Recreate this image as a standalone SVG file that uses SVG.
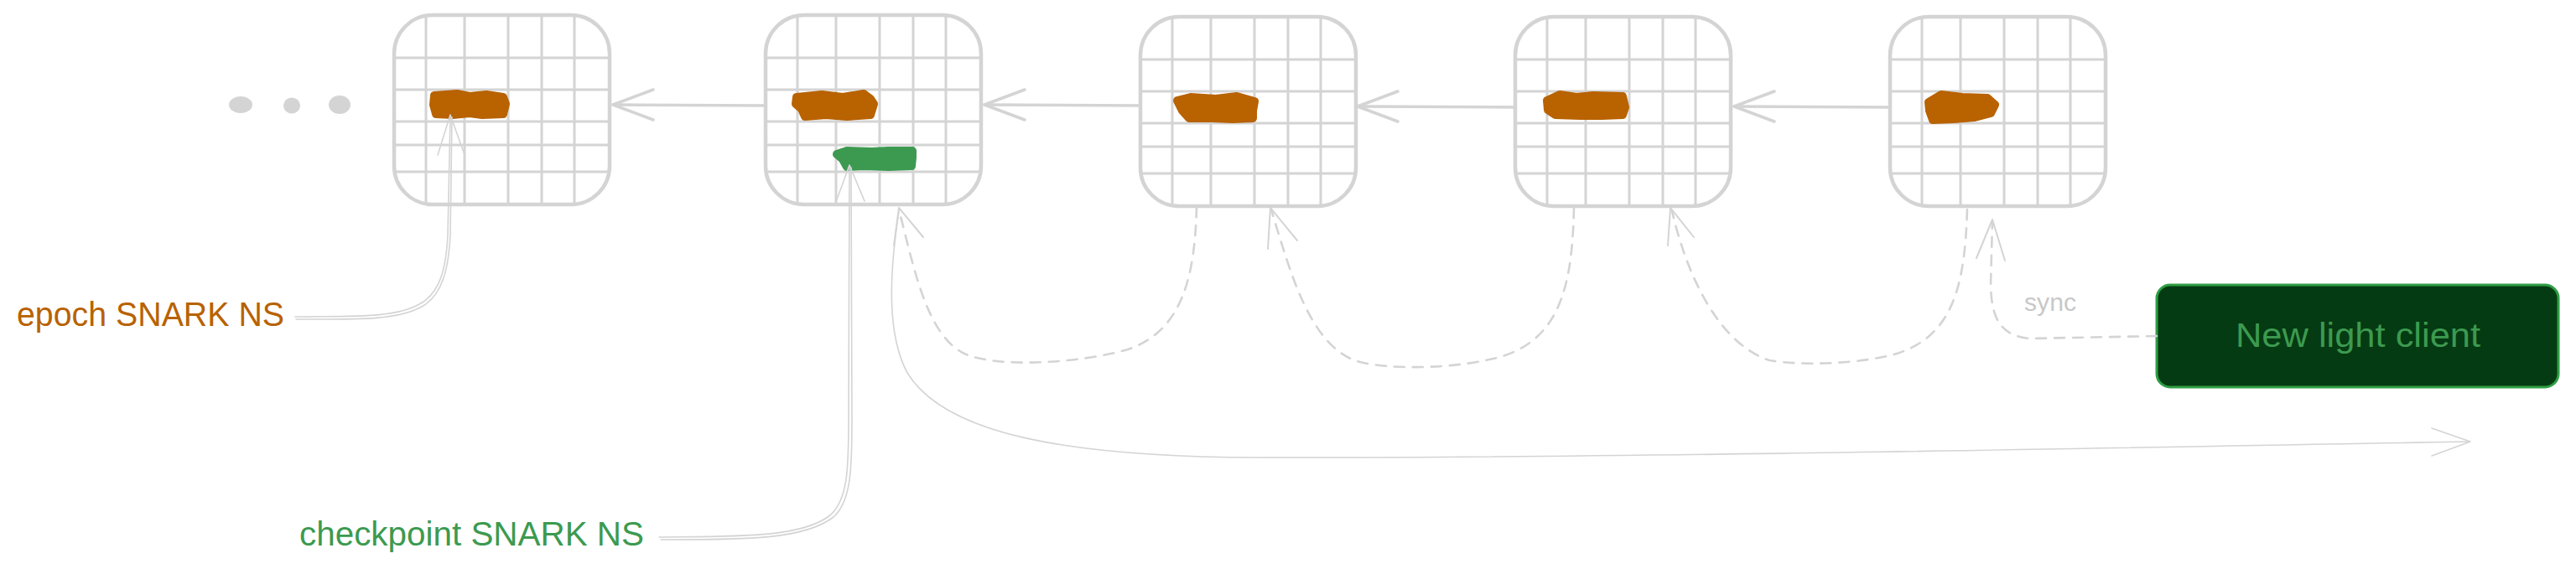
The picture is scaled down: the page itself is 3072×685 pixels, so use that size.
<svg xmlns="http://www.w3.org/2000/svg" xmlns:xlink="http://www.w3.org/1999/xlink" width="3072" height="685" viewBox="0 0 3072 685">
<style>
.outline{fill:none;stroke:#d4d4d4;stroke-width:4.5}
.grid line{stroke:#d4d4d4;stroke-width:3}
.blob-o{fill:#b86200;stroke:#b86200;stroke-width:10;stroke-linejoin:round}
.blob-g{fill:#3c9a50;stroke:#3c9a50;stroke-width:10;stroke-linejoin:round}
.conn{fill:none;stroke:#d4d4d4;stroke-width:3.5;stroke-linecap:round;stroke-linejoin:round}
.thin{fill:none;stroke:#d4d4d4;stroke-width:1.6;stroke-linecap:round;stroke-linejoin:round}
.dash{fill:none;stroke:#d4d4d4;stroke-width:2.6;stroke-dasharray:12 10;stroke-linecap:round}
.head{fill:none;stroke:#d4d4d4;stroke-width:2;stroke-linecap:round;stroke-linejoin:round}
.lbl{font-family:"Liberation Sans",Arial,sans-serif}
</style>
<defs>
<clipPath id="bc"><rect x="0" y="0" width="257" height="226" rx="46"/></clipPath>
<g id="box">
<g class="grid" clip-path="url(#bc)">
<line x1="38" y1="0" x2="38" y2="226"/>
<line x1="84" y1="0" x2="84" y2="226"/>
<line x1="136" y1="0" x2="136" y2="226"/>
<line x1="176" y1="0" x2="176" y2="226"/>
<line x1="215" y1="0" x2="215" y2="226"/>
<line x1="0" y1="51" x2="257" y2="51"/>
<line x1="0" y1="89" x2="257" y2="89"/>
<line x1="0" y1="127" x2="257" y2="127"/>
<line x1="0" y1="155" x2="257" y2="155"/>
<line x1="0" y1="187" x2="257" y2="187"/>
</g>
<rect class="outline" x="0" y="0" width="257" height="226" rx="46"/>
</g>
</defs>
<rect width="3072" height="685" fill="#ffffff"/>

<g id="dots">
<ellipse cx="287" cy="125" rx="14" ry="10" fill="#d4d4d4"/>
<ellipse cx="348" cy="126" rx="10" ry="9.5" fill="#d4d4d4"/>
<ellipse cx="405" cy="125" rx="13" ry="11" fill="#d4d4d4"/>
</g>

<g id="block1">
<use xlink:href="#box" x="470" y="18"/>
<path class="blob-o" d="M518 114 L545 112 L560 115 L580 113 L600 116 L603 124 L600 136 L575 137 L560 135 L540 137 L520 136 L517 125 Z"/>
</g>
<g id="block2">
<use xlink:href="#box" x="913" y="18"/>
<path class="blob-o" d="M950 116 L980 113 L1005 116 L1030 112 L1038 118 L1042 124 L1038 137 L1010 139 L985 137 L960 139 L956 130 L949 124 Z"/>
<path class="blob-g" d="M998 184 L1010 180 L1040 181 L1060 180 L1088 180 L1088 188 L1087 198 L1060 199 L1030 198 L1010 199 L1005 190 Z"/>
</g>
<g id="block3">
<use xlink:href="#box" x="1360" y="20"/>
<path class="blob-o" d="M1404 120 L1420 116 L1450 118 L1475 115 L1496 121 L1494 132 L1494 141 L1470 142 L1445 141 L1418 141 L1410 132 Z"/>
</g>
<g id="block4">
<use xlink:href="#box" x="1807" y="20"/>
<path class="blob-o" d="M1845 120 L1860 113 L1880 116 L1900 114 L1935 115 L1938 128 L1935 137 L1910 138 L1885 138 L1855 137 L1846 131 Z"/>
</g>
<g id="block5">
<use xlink:href="#box" x="2254" y="20"/>
<path class="blob-o" d="M2300 122 L2315 113 L2340 116 L2370 117 L2379 125 L2374 135 L2355 140 L2330 142 L2305 143 L2301 132 Z"/>
</g>

<g id="new-light-client">
<rect x="2572" y="340" width="479" height="122" rx="16" fill="#053b12" stroke="#2f9e44" stroke-width="3"/>
<text class="lbl" x="2812" y="414" font-size="40" fill="#3c9a50" text-anchor="middle" textLength="292" lengthAdjust="spacingAndGlyphs">New light client</text>
</g>

<g id="labels">
<text class="lbl" x="20" y="389" font-size="40" fill="#b86200" textLength="319" lengthAdjust="spacingAndGlyphs">epoch SNARK NS</text>
<text class="lbl" x="357" y="651" font-size="40" fill="#3c9a50" textLength="411" lengthAdjust="spacingAndGlyphs">checkpoint SNARK NS</text>
<text class="lbl" x="2414" y="371" font-size="29" fill="#c8c8c8" textLength="62" lengthAdjust="spacingAndGlyphs">sync</text>
</g>

<g id="connectors">
<path class="conn" d="M913 126 L731 125"/>
<path class="conn" d="M779 107 L731 125 L779 143"/>
<path class="conn" d="M1360 126 L1174 125"/>
<path class="conn" d="M1222 107 L1174 125 L1222 143"/>
<path class="conn" d="M1807 128 L1619 127"/>
<path class="conn" d="M1667 109 L1619 127 L1667 145"/>
<path class="conn" d="M2254 128 L2068 127"/>
<path class="conn" d="M2116 109 L2068 127 L2116 145"/>

<path class="dash" d="M1427 247 C1425 330 1410 395 1345 417 C1290 433 1190 440 1150 422 C1105 400 1090 320 1072 250"/>
<path class="head" d="M1066 293 L1072 248 L1101 283"/>
<path class="dash" d="M1877 248 C1875 330 1865 400 1795 424 C1745 440 1655 443 1615 430 C1562 408 1540 330 1516 250"/>
<path class="head" d="M1512 297 L1515 248 L1547 287"/>
<path class="dash" d="M2346 250 C2343 340 2330 400 2262 422 C2220 434 2150 437 2110 430 C2050 410 2012 330 1994 252"/>
<path class="head" d="M1989 293 L1992 248 L2020 283"/>
<path class="dash" d="M2572 401 L2420 404 C2385 400 2375 380 2374 340 L2376 266"/>
<path class="head" d="M2357 308 L2376 262 L2391 311"/>

<path class="thin" d="M1072 252 C1060 330 1058 400 1082 445 C1125 515 1260 545 1500 546 C1900 547 2500 535 2945 527"/>
<path class="thin" d="M2900 511 L2946 527 L2900 544"/>

<path class="thin" d="M786 641 C880 640 955 642 990 615 C1011 596 1012 560 1012 500 L1013 199"/>
<path class="thin" d="M788 644 C882 644 958 645 994 617 C1015 598 1016 560 1016 500 L1015 200"/>
<path class="thin" d="M998 238 L1013 197 L1031 240"/>

<path class="thin" d="M352 378 C420 377 470 380 500 363 C525 350 532 320 534 280 L537 139"/>
<path class="thin" d="M353 381 C421 381 472 383 503 366 C528 352 535 320 537 280 L539 140"/>
<path class="thin" d="M522 185 L537 137 L553 182"/>
</g>
</svg>
